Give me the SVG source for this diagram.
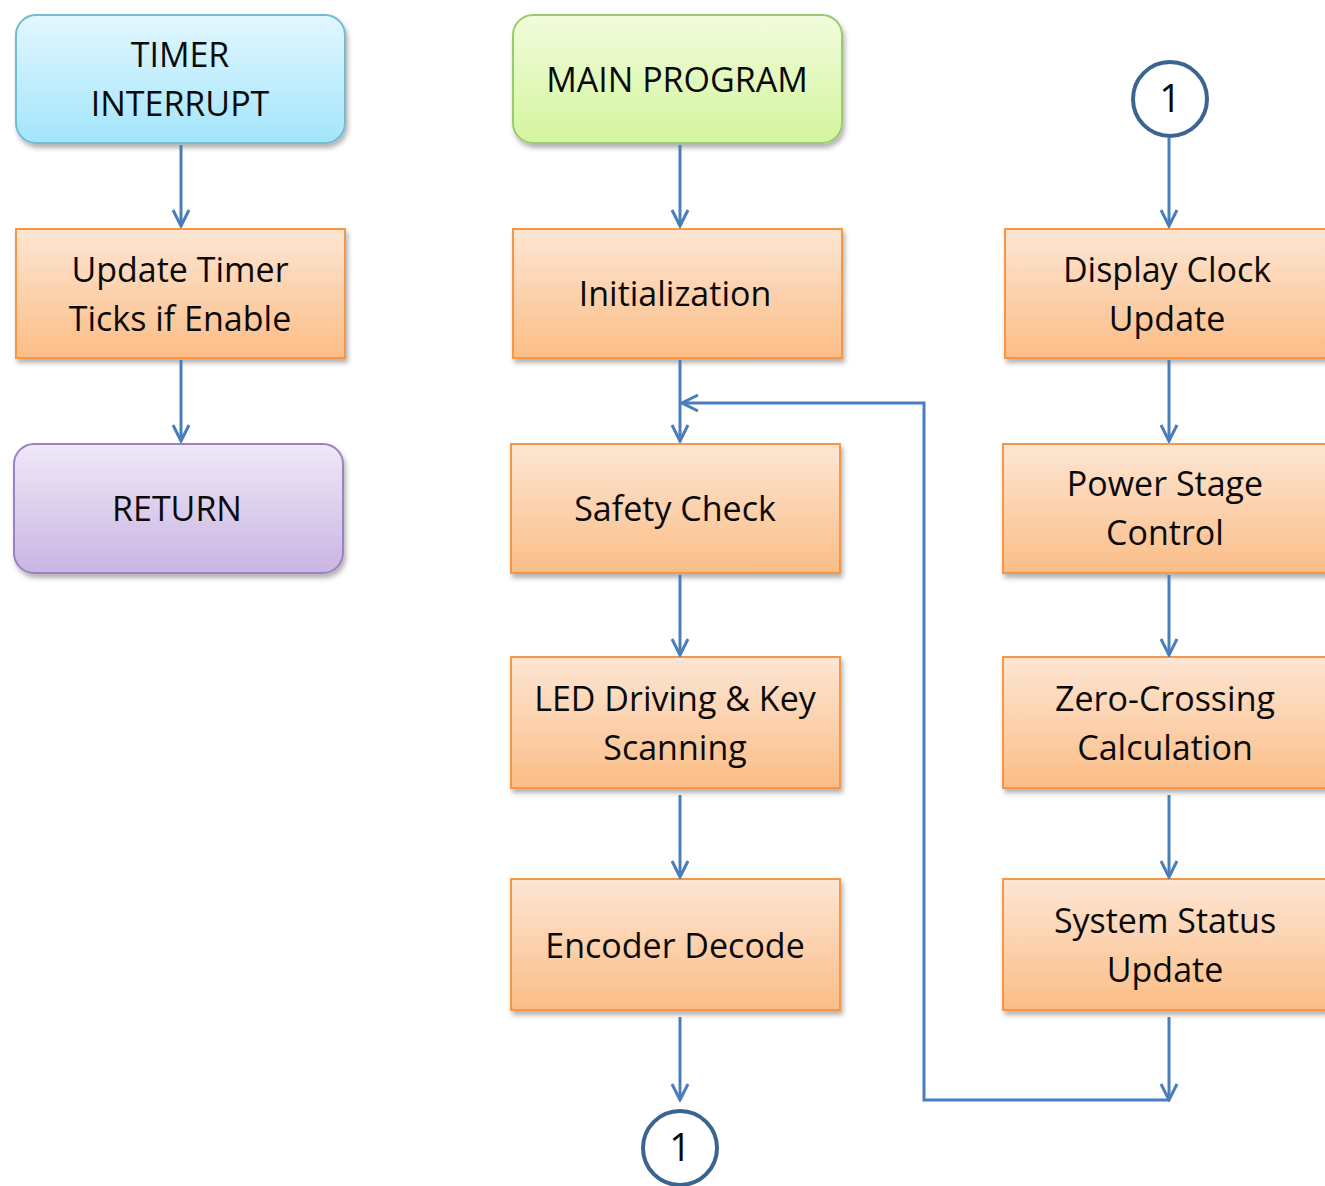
<svg xmlns="http://www.w3.org/2000/svg" width="1325" height="1186" viewBox="0 0 1325 1186">
<defs>
<linearGradient id="gOr" x1="0" y1="0" x2="0" y2="1"><stop offset="0" stop-color="#fde6d4"/><stop offset="1" stop-color="#fbbd86"/></linearGradient>
<linearGradient id="gCy" x1="0" y1="0" x2="0" y2="1"><stop offset="0" stop-color="#e2f7fe"/><stop offset="1" stop-color="#a3e5fb"/></linearGradient>
<linearGradient id="gGr" x1="0" y1="0" x2="0" y2="1"><stop offset="0" stop-color="#f2fcdc"/><stop offset="1" stop-color="#d3f59e"/></linearGradient>
<linearGradient id="gPu" x1="0" y1="0" x2="0" y2="1"><stop offset="0" stop-color="#efe8f7"/><stop offset="1" stop-color="#c9b5e3"/></linearGradient>
<filter id="sh" x="-10%" y="-10%" width="120%" height="130%"><feDropShadow dx="2" dy="4" stdDeviation="2.5" flood-color="#000" flood-opacity="0.3"/></filter>
<marker id="ah" viewBox="0 0 20 20" refX="18" refY="10" markerWidth="20" markerHeight="20" markerUnits="userSpaceOnUse" orient="auto"><path d="M2,2 L18,10 L2,18" fill="none" stroke="#4a7ebb" stroke-width="3"/></marker>
</defs>
<style>
.or{fill:url(#gOr);stroke:#f79646;stroke-width:2;filter:url(#sh)}
.cy{fill:url(#gCy);stroke:#6fbcd3;stroke-width:2;filter:url(#sh)}
.gr{fill:url(#gGr);stroke:#9bcb6c;stroke-width:2;filter:url(#sh)}
.pu{fill:url(#gPu);stroke:#9b82c0;stroke-width:2;filter:url(#sh)}
.ci{fill:#fff;stroke:#3a6591;stroke-width:4}
text{font-family:"Open Sans","Noto Sans","Liberation Sans",sans-serif;font-size:34px;fill:#0a0a0a;text-anchor:middle}
.n{font-size:38px}
.c{stroke:#4a7ebb;stroke-width:3;fill:none}
</style>
<g id="timer"><rect class="cy" x="16" y="15" width="329" height="128" rx="20"/><text x="180" y="67">TIMER</text><text x="180" y="116">INTERRUPT</text></g>
<g id="update"><rect class="or" x="16" y="229" width="329" height="129"/><text x="180" y="282">Update Timer</text><text x="180" y="331">Ticks if Enable</text></g>
<g id="return"><rect class="pu" x="14" y="444" width="329" height="129" rx="20"/><text x="177" y="521">RETURN</text></g>
<g id="main"><rect class="gr" x="513" y="15" width="329" height="128" rx="20"/><text x="677" y="92">MAIN PROGRAM</text></g>
<g id="init"><rect class="or" x="513" y="229" width="329" height="129"/><text x="675" y="306">Initialization</text></g>
<g id="safety"><rect class="or" x="511" y="444" width="329" height="129"/><text x="675" y="521">Safety Check</text></g>
<g id="led"><rect class="or" x="511" y="657" width="329" height="131"/><text x="675" y="711">LED Driving &amp; Key</text><text x="675" y="760">Scanning</text></g>
<g id="encoder"><rect class="or" x="511" y="879" width="329" height="131"/><text x="675" y="958">Encoder Decode</text></g>
<g id="conn1"><circle class="ci" cx="680" cy="1148" r="37"/><text class="n" x="680" y="1161">1</text></g>
<g id="conn2"><circle class="ci" cx="1170" cy="99" r="37"/><text class="n" x="1170" y="112">1</text></g>
<g id="display"><rect class="or" x="1005" y="229" width="340" height="129"/><text x="1167" y="282">Display Clock</text><text x="1167" y="331">Update</text></g>
<g id="power"><rect class="or" x="1003" y="444" width="342" height="129"/><text x="1165" y="496">Power Stage</text><text x="1165" y="545">Control</text></g>
<g id="zero"><rect class="or" x="1003" y="657" width="342" height="131"/><text x="1165" y="711">Zero-Crossing</text><text x="1165" y="760">Calculation</text></g>
<g id="status"><rect class="or" x="1003" y="879" width="342" height="131"/><text x="1165" y="933">System Status</text><text x="1165" y="982">Update</text></g>
<g id="connectors">
<line class="c" x1="181" y1="145" x2="181" y2="226" marker-end="url(#ah)"/>
<line class="c" x1="181" y1="360" x2="181" y2="441" marker-end="url(#ah)"/>
<line class="c" x1="680" y1="145" x2="680" y2="226" marker-end="url(#ah)"/>
<line class="c" x1="680" y1="360" x2="680" y2="441" marker-end="url(#ah)"/>
<line class="c" x1="680" y1="575" x2="680" y2="655" marker-end="url(#ah)"/>
<line class="c" x1="680" y1="795" x2="680" y2="877" marker-end="url(#ah)"/>
<line class="c" x1="680" y1="1017" x2="680" y2="1100" marker-end="url(#ah)"/>
<line class="c" x1="1169" y1="138" x2="1169" y2="226" marker-end="url(#ah)"/>
<line class="c" x1="1169" y1="360" x2="1169" y2="441" marker-end="url(#ah)"/>
<line class="c" x1="1169" y1="575" x2="1169" y2="655" marker-end="url(#ah)"/>
<line class="c" x1="1169" y1="795" x2="1169" y2="877" marker-end="url(#ah)"/>
<line class="c" x1="1169" y1="1017" x2="1169" y2="1100" marker-end="url(#ah)"/>
<polyline class="c" points="1169,1100 924,1100 924,403 682,403" marker-end="url(#ah)"/>
</g>
</svg>
